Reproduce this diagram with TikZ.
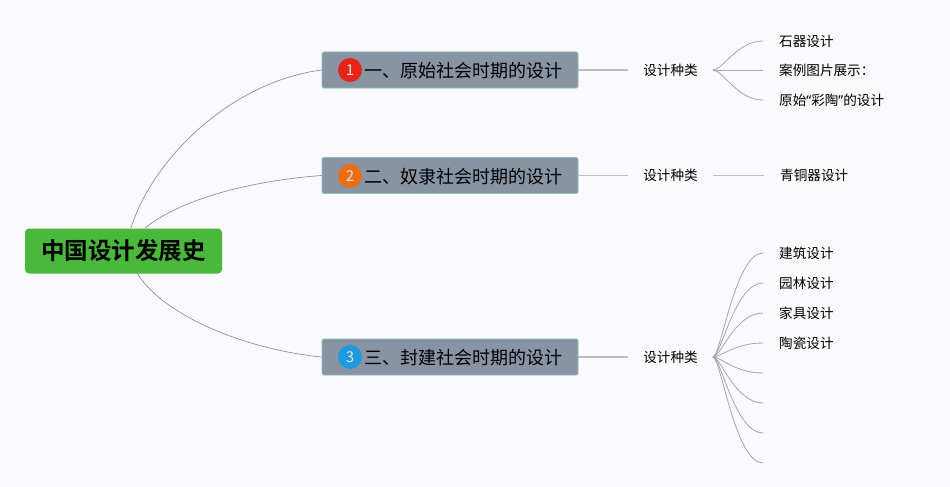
\documentclass[tikz,border=0pt]{standalone}
\usepackage{fontspec}
\setmainfont{Noto Sans CJK SC}
\newfontfamily\cjkbold{Noto Sans CJK SC}[BoldFont={Noto Sans CJK SC Bold}]
\newfontfamily\latinq{Noto Sans}
\definecolor{bgc}{RGB}{250,250,252}
\definecolor{rootgreen}{RGB}{74,184,58}
\definecolor{boxfill}{RGB}{136,148,164}
\definecolor{boxedge}{RGB}{140,190,184}
\definecolor{linkc}{RGB}{140,144,166}
\definecolor{fanc}{RGB}{160,166,184}
\definecolor{hlinec}{RGB}{190,190,192}
\definecolor{numred}{RGB}{230,36,24}
\definecolor{numorange}{RGB}{232,110,20}
\definecolor{numblue}{RGB}{30,155,224}
\definecolor{numtxt}{RGB}{235,225,225}
\tikzset{
  rootbox/.style={fill=rootgreen, rounded corners=4pt, minimum width=197pt, minimum height=45pt, inner sep=0pt,
    font=\fontsize{23.5}{26}\selectfont\bfseries, text=black, text height=20.7pt, text depth=2.8pt},
  groupbox/.style={fill=boxfill, draw=boxedge, line width=0.8pt, rounded corners=1.5pt, minimum width=256pt, minimum height=36pt, inner sep=0pt},
  numdot/.style={circle, inner sep=0pt, minimum size=24pt, text=numtxt, font=\fontsize{15}{16}\selectfont},
  grouptext/.style={anchor=west, inner sep=0pt, font=\fontsize{18}{20}\selectfont, text=black, text height=15.8pt, text depth=2.2pt},
  kindtext/.style={inner xsep=15pt, inner ysep=0pt, font=\fontsize{13.6}{15}\selectfont, text height=12pt, text depth=1.6pt},
  leaftext/.style={anchor=west, inner xsep=16pt, inner ysep=0pt, font=\fontsize{13.6}{15}\selectfont, text height=12pt, text depth=1.6pt},
  link/.style={draw=linkc, line width=0.7pt},
  fan/.style={draw=fanc, line width=0.8pt},
  hline/.style={draw=hlinec, line width=1.2pt},
}
\begin{document}
\begin{tikzpicture}[x=1pt,y=-1pt]
\fill[bgc] (0,0) rectangle (950,487);
\useasboundingbox (0,0) rectangle (950,487);

% root
\node[rootbox] (root) at (123.5,251) {\cjkbold\bfseries 中国设计发展史};

% group boxes
\node[groupbox] (g1) at (450,70) {};
\node[groupbox] (g2) at (450,175.5) {};
\node[groupbox] (g3) at (450,357) {};

\node[numdot, fill=numred] (n1) at (350,70) {1};
\node[numdot, fill=numorange] (n2) at (350,176) {2};
\node[numdot, fill=numblue] (n3) at (350,357) {3};

\node[grouptext] (t1) at (364,70.5) {一、原始社会时期的设计};
\node[grouptext] (t2) at (364,176.5) {二、奴隶社会时期的设计};
\node[grouptext] (t3) at (364,357.5) {三、封建社会时期的设计};

% root links
\coordinate (r1) at (131,228);
\coordinate (r2) at (145,228);
\coordinate (r3) at (137,273);
\draw[link] (r1) .. controls (152,160) and (230,82) .. (g1.west);
\draw[link] (r2) .. controls (185,196) and (260,180) .. (g2.west);
\draw[link] (r3) .. controls (165,318) and (250,350) .. (g3.west);

% kind nodes
\node[kindtext] (k1) at (670.5,70) {设计种类};
\node[kindtext] (k2) at (670.5,175.5) {设计种类};
\node[kindtext] (k3) at (670.5,357) {设计种类};

\draw[hline] (g1.east) -- (k1.west);
\draw[hline] (g2.east) -- (k2.west);
\draw[hline] (g3.east) -- (k3.west);

% group 1 leaves
\node[leaftext] (a1) at (763,41) {石器设计};
\node[leaftext] (a2) at (763,70) {案例图片展示：};
\node[leaftext] (a3) at (763,100) {原始{\latinq “}彩陶{\latinq ”}的设计};
\draw[fan] (k1.east) .. controls +(10,0) and +(-26,0) .. (a1.west);
\draw[fan] (k1.east) -- (a2.west);
\draw[fan] (k1.east) .. controls +(10,0) and +(-26,0) .. (a3.west);

% group 2 leaf
\node[leaftext] (b1) at (764,175.5) {青铜器设计};
\draw[hline] (k2.east) -- (b1.west);

% group 3 leaves
\node[leaftext] (c1) at (763,253) {建筑设计};
\node[leaftext] (c2) at (763,283) {园林设计};
\node[leaftext] (c3) at (763,313) {家具设计};
\node[leaftext] (c4) at (763,343) {陶瓷设计};
\coordinate (c5) at (763,373);
\coordinate (c6) at (763,403);
\coordinate (c7) at (763,433);
\coordinate (c8) at (763,463);
\foreach \c in {c1,c2,c3,c4}{
  \draw[fan] (k3.east) .. controls +(8,0) and +(-28,0) .. (\c.west);
}
\foreach \c in {c5,c6,c7,c8}{
  \draw[fan] (k3.east) .. controls +(8,0) and +(-28,0) .. (\c);
}
\end{tikzpicture}
\end{document}
